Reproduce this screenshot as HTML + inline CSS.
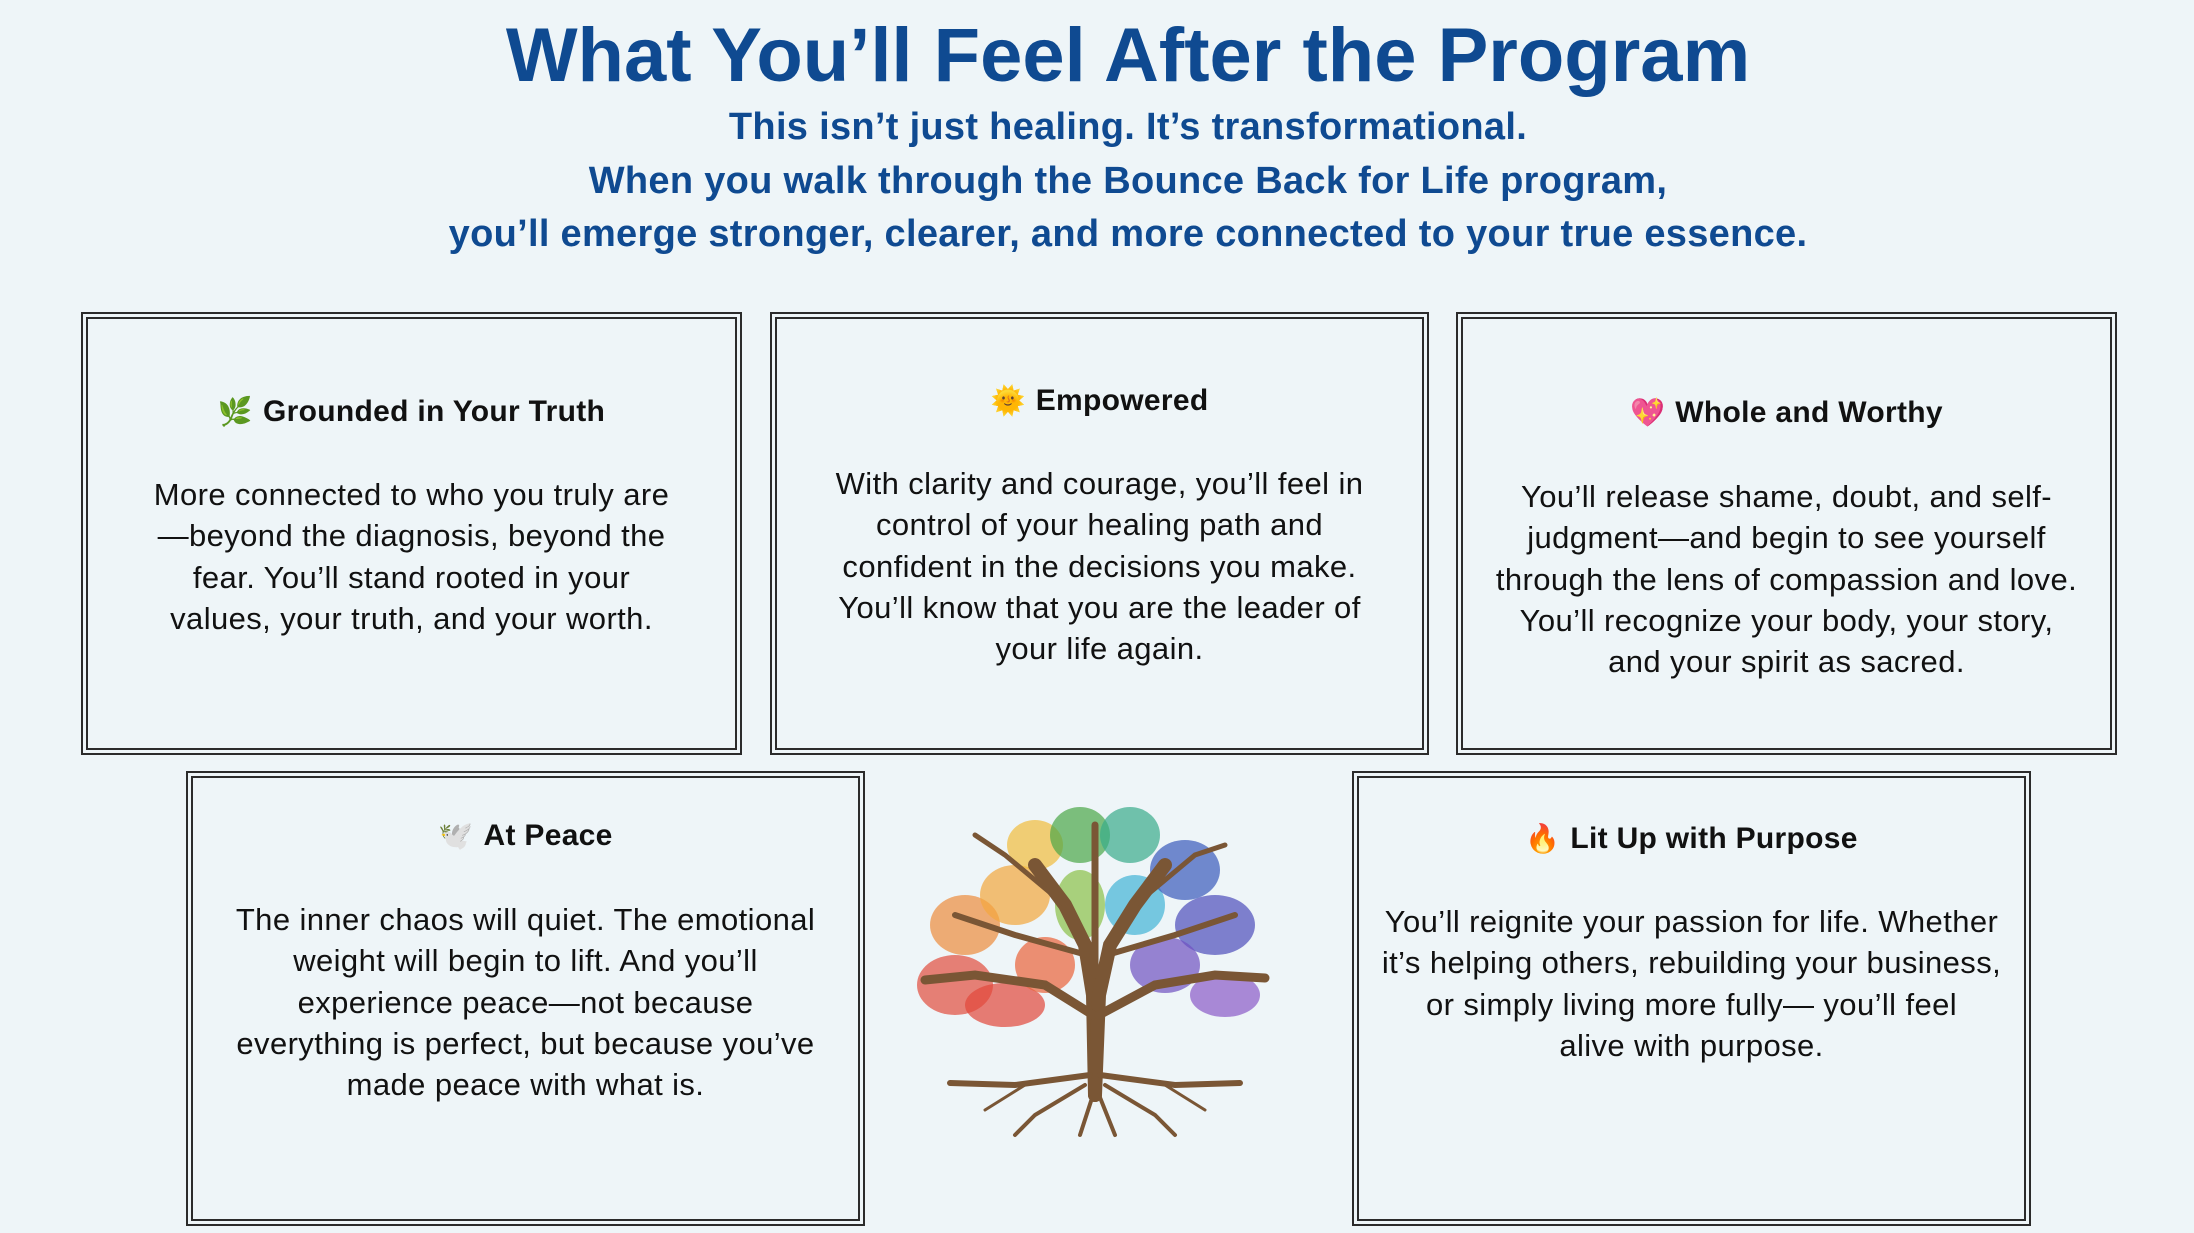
<!DOCTYPE html>
<html><head><meta charset="utf-8"><style>
html,body{margin:0;padding:0}
body{width:2194px;height:1233px;background:#eef5f8;position:relative;overflow:hidden;font-family:"Liberation Sans","Noto Sans CJK JP",sans-serif;}
.t{position:absolute;left:0;width:2256px;text-align:center;color:#0f4a91;font-weight:bold;white-space:nowrap}
.box{position:absolute;border:7px double #2b2b2b;box-sizing:border-box}
.h{position:absolute;left:0;right:0;text-align:center;font-weight:bold;font-size:30px;color:#111;line-height:40px;letter-spacing:0.3px}
.b{position:absolute;left:0;right:0;text-align:center;font-size:31px;color:#111;line-height:41.3px;letter-spacing:0.4px}
.ic{font-size:28px;margin-right:10px}
</style></head><body>
<div class="t" style="top:14px;font-size:76px;line-height:84px;letter-spacing:0px">What You’ll Feel After the Program</div>
<div class="t" style="top:105px;font-size:38px;line-height:44px;letter-spacing:0.3px">This isn’t just healing. It’s transformational.</div>
<div class="t" style="top:159px;font-size:38px;line-height:44px;letter-spacing:0.3px">When you walk through the Bounce Back for Life program,</div>
<div class="t" style="top:212px;font-size:38px;line-height:44px;letter-spacing:0.3px">you’ll emerge stronger, clearer, and more connected to your true essence.</div>

<div class="box" style="left:81px;top:312px;width:661px;height:443px">
<div class="h" style="top:73px"><span class="ic">🌿</span>Grounded in Your Truth</div>
<div class="b" style="top:155px">More connected to who you truly are<br>—beyond the diagnosis, beyond the<br>fear. You’ll stand rooted in your<br>values, your truth, and your worth.</div>
</div>
<div class="box" style="left:770px;top:312px;width:659px;height:443px">
<div class="h" style="top:62px"><span class="ic">🌞</span>Empowered</div>
<div class="b" style="top:144px">With clarity and courage, you’ll feel in<br>control of your healing path and<br>confident in the decisions you make.<br>You’ll know that you are the leader of<br>your life again.</div>
</div>
<div class="box" style="left:1456px;top:312px;width:661px;height:443px">
<div class="h" style="top:74px"><span class="ic">💖</span>Whole and Worthy</div>
<div class="b" style="top:157px">You’ll release shame, doubt, and self-<br>judgment—and begin to see yourself<br>through the lens of compassion and love.<br>You’ll recognize your body, your story,<br>and your spirit as sacred.</div>
</div>
<div class="box" style="left:186px;top:771px;width:679px;height:455px">
<div class="h" style="top:38px"><span class="ic">🕊️</span>At Peace</div>
<div class="b" style="top:121px">The inner chaos will quiet. The emotional<br>weight will begin to lift. And you’ll<br>experience peace—not because<br>everything is perfect, but because you’ve<br>made peace with what is.</div>
</div>
<div class="box" style="left:1352px;top:771px;width:679px;height:455px">
<div class="h" style="top:41px"><span class="ic">🔥</span>Lit Up with Purpose</div>
<div class="b" style="top:123px">You’ll reignite your passion for life. Whether<br>it’s helping others, rebuilding your business,<br>or simply living more fully— you’ll feel<br>alive with purpose.</div>
</div>

<svg style="position:absolute;left:915px;top:795px" width="360" height="345" viewBox="0 0 360 345">
<g opacity="0.85">
<ellipse cx="40" cy="190" rx="38" ry="30" fill="#e0301e" opacity=".7"/>
<ellipse cx="90" cy="210" rx="40" ry="22" fill="#e02a1a" opacity=".7"/>
<ellipse cx="130" cy="170" rx="30" ry="28" fill="#e94818" opacity=".7"/>
<ellipse cx="50" cy="130" rx="35" ry="30" fill="#ee7a1c" opacity=".7"/>
<ellipse cx="100" cy="100" rx="35" ry="30" fill="#f49a1c" opacity=".7"/>
<ellipse cx="120" cy="50" rx="28" ry="25" fill="#f2b41c" opacity=".7"/>
<ellipse cx="165" cy="40" rx="30" ry="28" fill="#2f9a2a" opacity=".7"/>
<ellipse cx="165" cy="110" rx="25" ry="35" fill="#7ab82a" opacity=".7"/>
<ellipse cx="215" cy="40" rx="30" ry="28" fill="#1aa078" opacity=".7"/>
<ellipse cx="220" cy="110" rx="30" ry="30" fill="#25a8d0" opacity=".7"/>
<ellipse cx="270" cy="75" rx="35" ry="30" fill="#1a40b0" opacity=".7"/>
<ellipse cx="300" cy="130" rx="40" ry="30" fill="#3230b0" opacity=".7"/>
<ellipse cx="250" cy="170" rx="35" ry="28" fill="#5a34b8" opacity=".7"/>
<ellipse cx="310" cy="200" rx="35" ry="22" fill="#7a3ec0" opacity=".7"/>
</g>
<g stroke="#7a5635" fill="none" stroke-linecap="round">
<path d="M180 300 L178 200 L170 150 L150 110 L120 70" stroke-width="14"/>
<path d="M180 300 L184 200 L195 150 L220 110 L250 70" stroke-width="14"/>
<path d="M178 220 L130 190 L60 180 L10 185" stroke-width="9"/>
<path d="M184 220 L240 190 L300 180 L350 183" stroke-width="9"/>
<path d="M172 160 L100 140 L40 120" stroke-width="6"/>
<path d="M192 160 L260 140 L320 120" stroke-width="6"/>
<path d="M180 180 L180 30" stroke-width="7"/>
<path d="M150 110 L90 60 L60 40" stroke-width="5"/>
<path d="M220 110 L280 60 L310 50" stroke-width="5"/>
<path d="M175 280 L100 290 L35 288" stroke-width="6"/>
<path d="M185 280 L260 290 L325 288" stroke-width="6"/>
<path d="M170 290 L120 320 L100 340" stroke-width="4"/>
<path d="M190 290 L240 320 L260 340" stroke-width="4"/>
<path d="M178 300 L165 340" stroke-width="4"/>
<path d="M184 300 L200 340" stroke-width="4"/>
<path d="M110 290 L70 315" stroke-width="3"/>
<path d="M250 290 L290 315" stroke-width="3"/>
</g>
</svg>
</body></html>
